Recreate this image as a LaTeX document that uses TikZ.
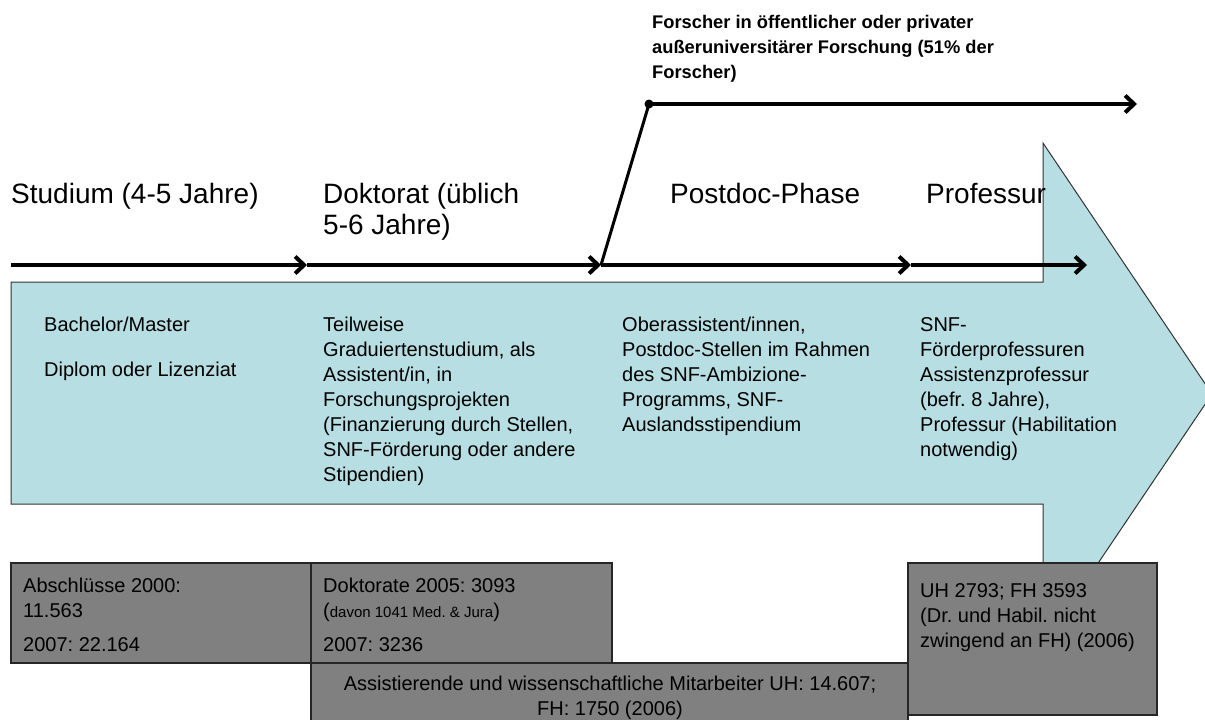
\documentclass[tikz,border=0pt]{standalone}
\usepackage{fontspec}
\setmainfont{Liberation Sans}
\usetikzlibrary{arrows.meta}
\frenchspacing
\definecolor{stagecol}{RGB}{183,222,226}
\definecolor{statcol}{RGB}{128,128,128}
\tikzset{phase/.style = {anchor=north west, inner sep=0pt, align=left, font=\fontsize{28}{31}\selectfont}}
\tikzset{info/.style = {anchor=north west, inner sep=0pt, align=left, font=\fontsize{20}{25}\selectfont}}
\tikzset{statbox/.style = {draw=black!85, fill=statcol, line width=1.2pt}}
\tikzset{flow/.style = {line width=4pt, -{Straight Barb[length=9pt,width=17pt]}}}

\begin{document}
\begin{tikzpicture}[x=1pt,y=-1pt]
                \useasboundingbox (0,0) rectangle (1205,720);
                \clip (0,0) rectangle (1205,720);

                % grosser Pfeil
                \draw[fill=stagecol, draw=black!80, line width=1pt] (11,282) -- (1043,282) -- (1043,143) -- (1212,394) -- (1043,645) -- (1043,504) -- (11,504) -- cycle;

                \node[phase] (studium) at (11,183) {Studium (4-5 Jahre)};
                \node[phase] (doktorat) at (323,183) {Doktorat (üblich\\5-6 Jahre)};
                \node[phase] (postdoc) at (670,183) {Postdoc-Phase};
                \node[phase] (professur) at (926,183) {Professur};

                \node[anchor=north west, inner sep=0pt, align=left, font=\bfseries\fontsize{18.3}{25}\selectfont] (forscher) at (652,15) {Forscher in öffentlicher oder privater\\außeruniversitärer Forschung (51\% der\\Forscher)};

                % Zeitachse
                \coordinate (t0) at (11,265);
                \coordinate (t1) at (307,265);
                \coordinate (t2) at (601,265);
                \coordinate (t3) at (911,265);
                \coordinate (t4) at (1087,265);
                \coordinate (knick) at (649,104);
                \coordinate (ausgang) at (1137,104);

                \draw[flow] (t0) -- (t1);
                \draw[flow] (t1) -- (t2);
                \draw[flow] (t2) -- (t3);
                \draw[flow] (t3) -- (t4);
                \draw[line width=3pt] (t2) -- (knick);
                \draw[flow] (knick) -- (ausgang);
                \fill (knick) circle (4.5pt);

                \node[info] (bachelor) at (44,317) {Bachelor/Master\\[20pt]Diplom oder Lizenziat};
                \node[info] (graduiert) at (323,317) {Teilweise\\Graduiertenstudium, als\\Assistent/in, in\\Forschungsprojekten\\(Finanzierung durch Stellen,\\SNF-Förderung oder andere\\Stipendien)};
                \node[info] (oberass) at (622,317) {Oberassistent/innen,\\Postdoc-Stellen im Rahmen\\des SNF-Ambizione-\\Programms, SNF-\\Auslandsstipendium};
                \node[info] (foerderprof) at (920,317) {SNF-\\Förderprofessuren\\Assistenzprofessur\\(befr. 8 Jahre),\\Professur (Habilitation\\notwendig)};

                % Zahlen
                \draw[statbox] (11,563) rectangle (311,663);
                \draw[statbox] (311,563) rectangle (612,663);
                \draw[statbox] (311,663) rectangle (908,725);
                \draw[statbox] (908,563) rectangle (1157,715);

                \node[info] (abschluesse) at (23,578) {Abschlüsse 2000:\\11.563\\[9pt]2007: 22.164};
                \node[info] (doktorate) at (323,578) {Doktorate 2005: 3093\\({\fontsize{15}{18}\selectfont davon 1041 Med. \& Jura})\\[9pt]2007: 3236};
                \node[info, anchor=north, align=center] (mitarbeiter) at (610,676) {Assistierende und wissenschaftliche Mitarbeiter UH: 14.607;\\FH: 1750 (2006)};
                \node[info] (uh) at (920,583) {UH 2793; FH 3593\\(Dr. und Habil. nicht\\zwingend an FH) (2006)};
            \end{tikzpicture}
\end{document}
